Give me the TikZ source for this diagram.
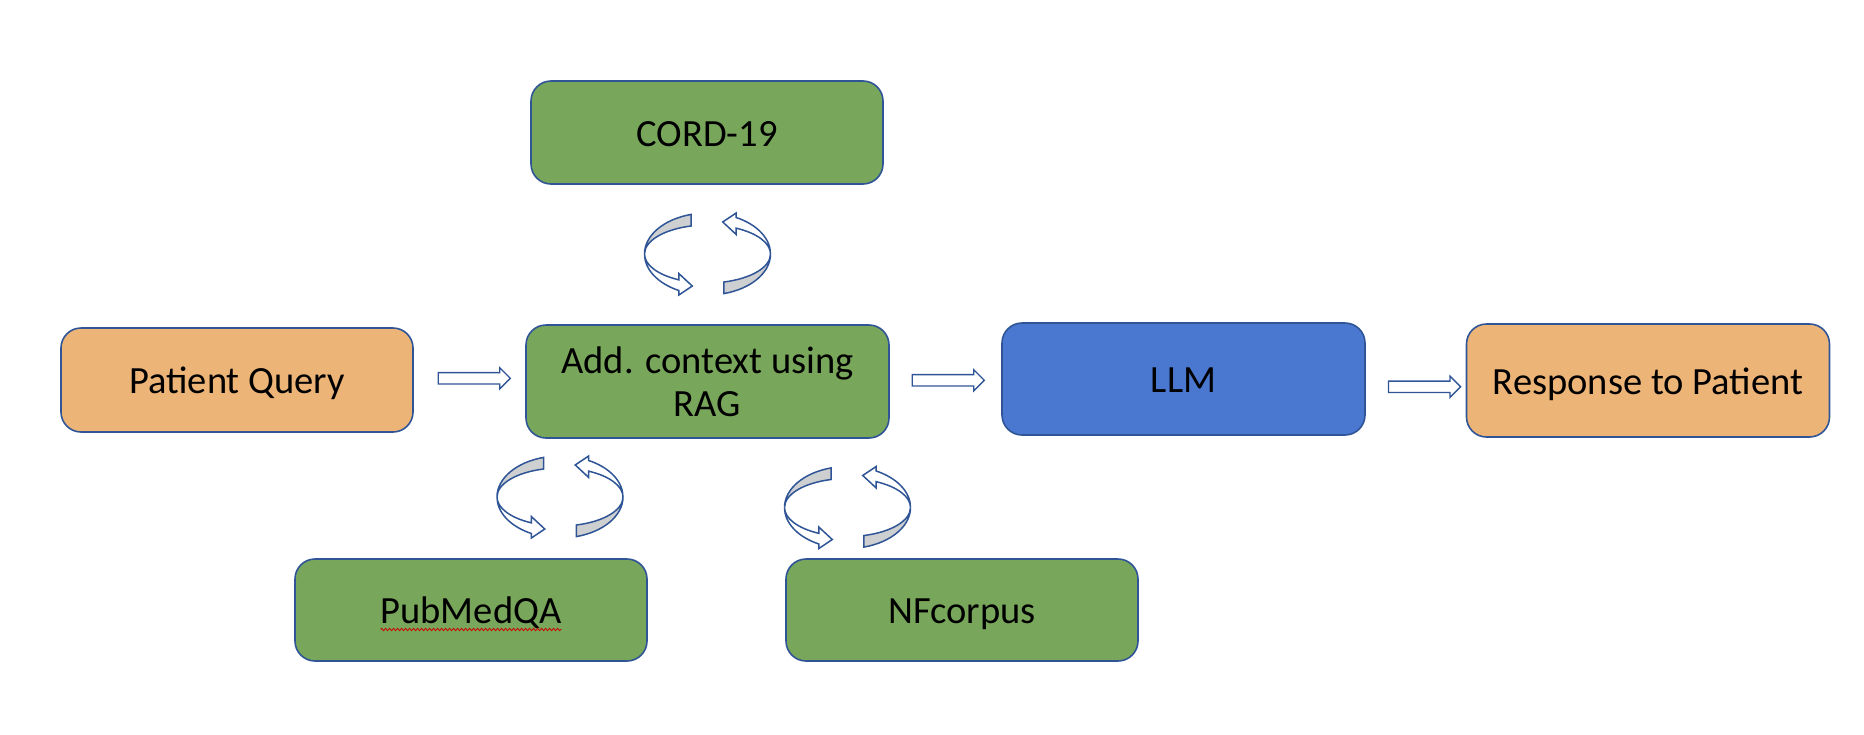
\documentclass[tikz,border=0pt]{standalone}
\usepackage{fontspec}
\setmainfont{Carlito}
\usetikzlibrary{shapes.arrows,decorations.pathmorphing,calc}
\definecolor{bord}{HTML}{2F5597}
\definecolor{grn}{HTML}{78A65A}
\definecolor{org}{HTML}{EDB478}
\definecolor{llmblue}{HTML}{4A77D0}
\definecolor{cycgray}{HTML}{CDCFD1}
\tikzset{
 box/.style={draw=bord,line width=1.6pt,rounded corners=20pt,minimum width=352pt,minimum height=103pt,font=\fontsize{38.5}{43}\selectfont},
 oneline/.style={text height=35pt,text depth=8pt},
 bigbox/.style={box,minimum width=363pt,minimum height=113pt},
 blockarr/.style={single arrow,draw=bord,fill=white,line width=1.3pt,inner xsep=0pt,inner ysep=5pt,single arrow head extend=5pt,minimum height=72pt},
 squig/.style={red!80!black,line width=0.8pt,decorate,decoration={zigzag,amplitude=1.2pt,segment length=4pt}},
 cyc/.pic={
  \foreach \r in {0,180}{
  \begin{scope}[rotate=\r,draw=bord,line width=1.5pt]
  \filldraw[fill=cycgray] (105:63 and 41) arc[start angle=105,end angle=180,x radius=63,y radius=41]
    -- (180:63 and 29) arc[start angle=180,end angle=105,x radius=63,y radius=29] -- cycle;
  \filldraw[fill=white] (180:63 and 41) arc[start angle=180,end angle=243,x radius=63,y radius=41]
    -- (243:63 and 46) -- (256:63 and 33) -- (243:63 and 22) -- (243:63 and 29)
    arc[start angle=243,end angle=180,x radius=63,y radius=29] -- cycle;
  \end{scope}}
 }
}
\begin{document}
\begin{tikzpicture}[x=1pt,y=1pt]
\useasboundingbox (0,0) rectangle (1864,-734);
% boxes
\node[box,oneline,fill=grn] (cord) at (707,-132.5) {CORD-19};
\node[box,oneline,fill=org,minimum height=104pt] (pq) at (237,-380) {Patient Query};
\node[bigbox,fill=grn,align=center] (rag) at (707.5,-381.5) {Add. context using\\RAG};
\node[bigbox,oneline,fill=llmblue,minimum height=112pt] (llm) at (1183.5,-379) {LLM};
\node[bigbox,oneline,fill=org] (resp) at (1648,-380.5) {Response to Patient};
\node[box,oneline,fill=grn,minimum height=102pt] (pub) at (471,-610) {PubMedQA};
\node[box,oneline,fill=grn,minimum height=102pt] (nf) at (962,-610) {NFcorpus};
\draw[squig] ([yshift=-6pt]pub.text) -- ($([yshift=-6pt]pub.text)!2!([yshift=-6pt]pub.base)$);
% block arrows
\path (pq.east) -- (rag.west) node[midway,blockarr,xshift=2pt,yshift=2.5pt] (a1) {};
\path (rag.east) -- (llm.west) node[midway,blockarr] (a2) {};
\path (llm.east) -- (resp.west) node[midway,blockarr,xshift=6pt,yshift=-7pt] (a3) {};
% cycle arrows
\foreach \cx/\cy in {707.5/-254,560/-497,847.5/-507.5}
\pic at (\cx,\cy) {cyc};
\end{tikzpicture}
\end{document}
